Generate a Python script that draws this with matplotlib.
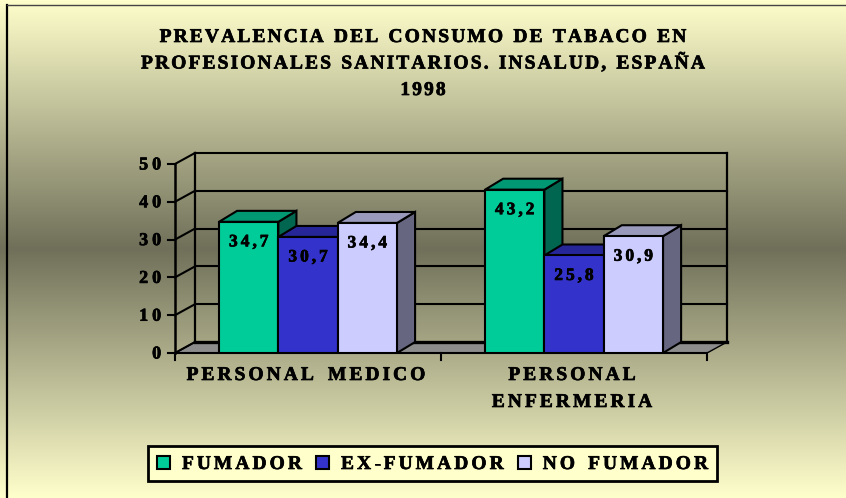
import numpy as np
import matplotlib.pyplot as plt
import matplotlib.patheffects as pe
from matplotlib.patches import Polygon, Rectangle

# data
categories = ['PERSONAL MEDICO', 'PERSONAL\nENFERMERIA']
series = ['FUMADOR', 'EX-FUMADOR', 'NO FUMADOR']
fumador = [34.7, 43.2]
ex_fumador = [30.7, 25.8]
no_fumador = [34.4, 30.9]
yticks = [0, 10, 20, 30, 40, 50]
title_lines = ['PREVALENCIA DEL CONSUMO DE TABACO EN',
               'PROFESIONALES SANITARIOS. INSALUD, ESPAÑA',
               '1998']

front_colors = ['#00CC99', '#3333CC', '#CCCCFF']
top_colors = ['#009973', '#262699', '#9999BB']
side_colors = ['#006650', '#1A1A66', '#666680']

FONT = ['Liberation Serif', 'DejaVu Serif']
heavy = [pe.withStroke(linewidth=0.5, foreground='black')]

W, H = 846, 498

fig = plt.figure(figsize=(8.46, 4.98), dpi=100)
renderer = fig.canvas.get_renderer()


# letter-spaced text, x/y in pixels from the bottom-left corner
def spaced_text(x, y, s, size, track, word=None, align='center'):
    if word is None:
        word = 2 * track
    objs, widths = [], []
    for ch in s:
        if ch == ' ':
            objs.append(None)
            widths.append(word)
            continue
        t = fig.text(0, 0, ch, fontsize=size, family=FONT, weight='bold',
                     ha='left', va='baseline', path_effects=heavy, zorder=20)
        objs.append(t)
        widths.append(t.get_window_extent(renderer).width)
    total = sum(widths) + track * (len(s) - 1)
    if align == 'center':
        x0 = x - total / 2
    elif align == 'right':
        x0 = x - total
    else:
        x0 = x
    for t, w in zip(objs, widths):
        if t is not None:
            t.set_position((x0 / W, y / H))
        x0 += w + track
    return total


# background gradient, dark band in the middle
bg = fig.add_axes([0, 0, 1, 1], zorder=-1)
yy = np.linspace(-1, 1, 500)
t = np.abs(yy)
light = np.array([255, 255, 204]) / 255
dark = np.array([112, 112, 90]) / 255
grad = dark[None, :] + (light - dark)[None, :] * t[:, None]
bg.imshow(grad[:, None, :], aspect='auto', extent=[0, 1, 0, 1])
bg.set_xlim(0, 1)
bg.set_ylim(0, 1)
bg.axis('off')
bg.plot([7 / W, 7 / W], [0, 1 - 5 / H], color='black', lw=1.6)
bg.plot([7 / W, 1], [1 - 5 / H, 1 - 5 / H], color='#444444', lw=1)

# plot area: front plane + depth offset
ax = fig.add_axes([175 / W, 145 / H, 552 / W, 200 / H])
DX = 0.075
DY = 2.9
ax.set_xlim(0, 2 + DX)
ax.set_ylim(0, 50 + DY)
ax.axis('off')

lk = dict(color='black', solid_capstyle='projecting', clip_on=False)

# floor
ax.add_patch(Polygon([(0, 0), (2, 0), (2 + DX, DY), (DX, DY)], closed=True,
                     facecolor='#8C8C8C', edgecolor='black', lw=1, zorder=1))
ax.plot([DX, 2 + DX], [DY, DY], lw=2.4, zorder=1.5, **lk)

# back wall grid
for v in yticks[1:]:
    ax.plot([DX, 2 + DX], [v + DY, v + DY], lw=1.5, zorder=1.5, **lk)
ax.plot([DX, DX], [DY, 50 + DY], lw=1.6, zorder=1.5, **lk)
ax.plot([2 + DX, 2 + DX], [DY, 50 + DY], lw=1.6, zorder=1.5, **lk)

# side wall lines
for v in yticks:
    ax.plot([0, DX], [v, v + DY], lw=1.5, zorder=1.5, **lk)
ax.plot([0, 0], [0, 50], lw=1.8, zorder=1.5, **lk)
ax.plot([0, 2], [0, 0], lw=1.5, zorder=1.5, **lk)

# ticks
for v in yticks:
    ax.plot([-0.026, 0], [v, v], lw=1.5, **lk)
    px, py = ax.transData.transform((0, v))
    spaced_text(px - 14, py - 5.5, str(v), 13, 4, align='right')
for c in [0, 1, 2]:
    ax.plot([c, c], [0, -1.9], lw=1.5, **lk)

# bars
bar_w = 0.223
bdx = 0.068
bdy = 2.9
values = [fumador, ex_fumador, no_fumador]
z = 3.0
for ci, cat in enumerate(categories):
    start = ci + 0.5 - 1.5 * bar_w
    for si in range(len(series)):
        v = values[si][ci]
        x0 = start + si * bar_w
        x1 = x0 + bar_w
        ax.add_patch(Polygon([(x1, 0), (x1 + bdx, bdy), (x1 + bdx, v + bdy), (x1, v)],
                             closed=True, facecolor=side_colors[si],
                             edgecolor='black', lw=1.5, zorder=z))
        ax.add_patch(Polygon([(x0, v), (x0 + bdx, v + bdy), (x1 + bdx, v + bdy), (x1, v)],
                             closed=True, facecolor=top_colors[si],
                             edgecolor='black', lw=1.5, zorder=z))
        ax.bar([x0], [v], width=bar_w, align='edge', color=front_colors[si],
               edgecolor='black', lw=1.5, zorder=z + 0.001)
        z += 0.01
        px, py = ax.transData.transform((x0 + bar_w / 2, v))
        spaced_text(px, py - 24.5, f'{v:.1f}'.replace('.', ','), 12.5, 3)
    px, py = ax.transData.transform((ci + 0.5, 0))
    for li, line in enumerate(cat.split('\n')):
        spaced_text(px - 2, py - 27 - 27 * li, line, 14, 3, word=8)

# title
for i, line in enumerate(title_lines):
    spaced_text(W / 2, H - (42 + 26.5 * i), line, 14, 2.1, word=6)

# legend, drawn by hand
fig.add_artist(Rectangle((148 / W, 17 / H), 569 / W, 35 / H,
                         transform=fig.transFigure, facecolor='#FFFFCC',
                         edgecolor='black', lw=2, zorder=10))
lx = 157
for si, name in enumerate(series):
    fig.add_artist(Rectangle((lx / W, 29 / H), 13 / W, 13 / H,
                             transform=fig.transFigure, facecolor=front_colors[si],
                             edgecolor='black', lw=1.5, zorder=11))
    w = spaced_text(lx + 25, 29, name, 14, 3, word=7, align='left')
    lx += 25 + w + 14

fig.savefig('out.png', dpi=100)
